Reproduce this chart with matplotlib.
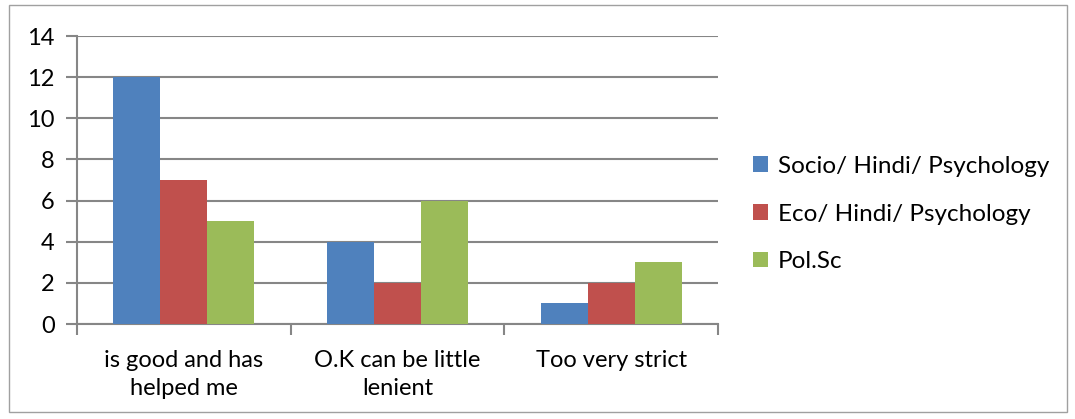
import matplotlib.pyplot as plt
import numpy as np
from matplotlib.patches import Rectangle

categories = ['is good and has\nhelped me', 'O.K can be little\nlenient', 'Too very strict']
series_names = ['Socio/ Hindi/ Psychology', 'Eco/ Hindi/ Psychology', 'Pol.Sc']
socio = [12, 4, 1]
eco = [7, 2, 2]
polsc = [5, 6, 3]
colors = ['#4f81bd', '#c0504d', '#9bbb59']

plt.rcParams['font.family'] = ['Lato', 'DejaVu Sans']

fig = plt.figure(figsize=(10.75, 4.19), dpi=100)
ax = fig.add_axes([0.0716, 0.2267, 0.5964, 0.6873])

x = np.arange(len(categories))
w = 0.22
for i, (vals, name) in enumerate(zip([socio, eco, polsc], series_names)):
    ax.bar(x + (i - 1) * w, vals, w, color=colors[i], label=name, zorder=3)

grid_c = '#868686'
ax.set_xlim(-0.5, 2.5)
ax.set_ylim(0, 14)
ax.set_yticks(range(0, 15, 2))
ax.yaxis.grid(True, color=grid_c, linewidth=1.5, zorder=0)
ax.set_xticks([-0.5, 0.5, 1.5, 2.5])
ax.set_xticklabels([])
ax.set_xticks(x, minor=True)
ax.set_xticklabels(categories, minor=True, fontsize=17, linespacing=1.4)
ax.tick_params(axis='x', which='minor', length=0, pad=19)
ax.tick_params(axis='x', which='major', length=8, width=1.5, color=grid_c)
ax.tick_params(axis='y', length=8, width=1.5, color=grid_c, labelsize=17, pad=8)
for s in ['top', 'right']:
    ax.spines[s].set_visible(False)
for s in ['left', 'bottom']:
    ax.spines[s].set_color(grid_c)
    ax.spines[s].set_linewidth(1.5)

ax.legend(loc='center left', bbox_to_anchor=(1.04, 0.382), frameon=False,
          fontsize=17.5, handlelength=0.6, handleheight=0.6, handletextpad=0.4,
          labelspacing=1.1, borderaxespad=0)

fig.patches.append(Rectangle((0.008, 0.017), 0.985, 0.97, transform=fig.transFigure,
                             fill=False, edgecolor='#a0a0a0', linewidth=1))

fig.savefig('out.png', dpi=100)
